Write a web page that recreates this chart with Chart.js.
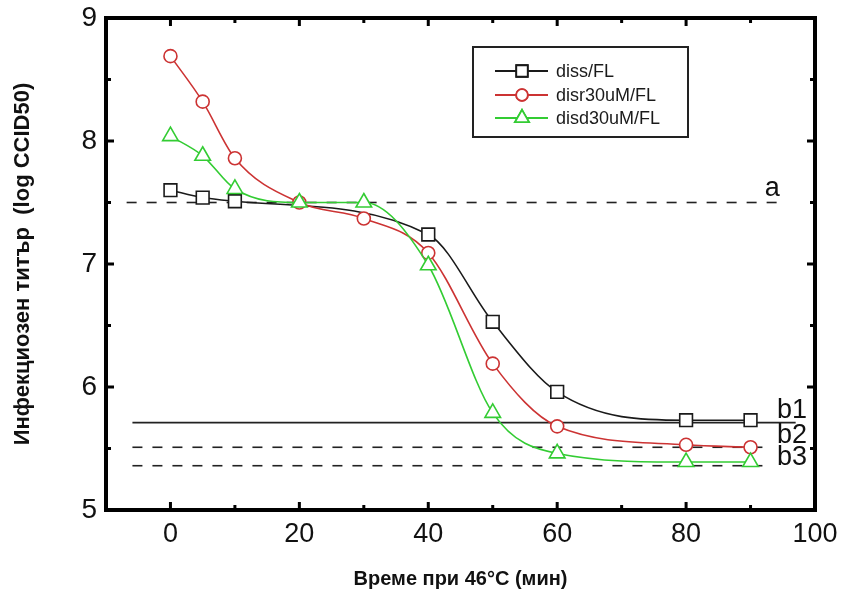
<!DOCTYPE html>
<html>
<head>
<meta charset="utf-8">
<script src="https://cdn.jsdelivr.net/npm/chart.js@4"></script>
<style>html,body{margin:0;padding:0;background:#fff}canvas{display:block}</style>
</head>
<body>
<canvas id="c" width="841" height="592"></canvas>
<script>
// Series: infectious titre (log CCID50) after heating at 46°C
const seriesNames = ['diss/FL', 'disr30uM/FL', 'disd30uM/FL'];
const dissTimes = [0, 5, 10, 40, 50, 60, 80, 90];
const dissTiter = [7.60, 7.54, 7.51, 7.24, 6.53, 5.96, 5.73, 5.73];
const disrTimes = [0, 5, 10, 20, 30, 40, 50, 60, 80, 90];
const disrTiter = [8.69, 8.32, 7.86, 7.50, 7.37, 7.09, 6.19, 5.68, 5.53, 5.51];
const disdTimes = [0, 5, 10, 20, 30, 40, 50, 60, 80, 90];
const disdTiter = [8.04, 7.88, 7.61, 7.50, 7.50, 6.99, 5.79, 5.46, 5.39, 5.39];

// Reference levels with their horizontal extent (minutes)
const refNames = ['a', 'b1', 'b2', 'b3'];
const refLevels = [7.50, 5.71, 5.51, 5.36];
const refStart = [-6.8, -5.9, -5.9, -5.9];
const refEnd = [95.3, 97.0, 92.2, 92.2];

// Axis ticks
const xTicks = [0, 20, 40, 60, 80, 100];
const yTicks = [5, 6, 7, 8, 9];
const xRange = [-10, 100];
const yRange = [5, 9];

const FONT = '"Liberation Sans", Arial, sans-serif';
const seriesStyle = [
  { color: '#1a1a1a', shape: 'rect', radius: 9 },
  { color: '#cc3333', shape: 'circle', radius: 6.5 },
  { color: '#33cc33', shape: 'triangle', radius: 9 }
];
const refStyle = [
  { dash: [10, 10] }, { dash: [] }, { dash: [10, 10] }, { dash: [10, 10] }
];
// label anchor (x in minutes, baseline offset in px above the line)
const refLabelPos = [
  { x: 92.2, dy: 7 }, { x: 94.1, dy: 5 }, { x: 94.1, dy: 4 }, { x: 94.1, dy: 1 }
];

const pairs = (xs, ys) => xs.map((x, i) => ({ x, y: ys[i] }));
const seriesData = [pairs(dissTimes, dissTiter), pairs(disrTimes, disrTiter), pairs(disdTimes, disdTiter)];

const datasets = seriesData.map((d, i) => ({
  label: seriesNames[i],
  data: d,
  borderColor: seriesStyle[i].color,
  borderWidth: 1.6,
  pointStyle: seriesStyle[i].shape,
  pointRadius: seriesStyle[i].radius,
  pointHoverRadius: seriesStyle[i].radius,
  pointBorderColor: seriesStyle[i].color,
  pointBackgroundColor: '#ffffff',
  pointBorderWidth: 1.6,
  cubicInterpolationMode: 'monotone',
  fill: false,
  order: 3 - i
}));

refLevels.forEach((lv, i) => {
  datasets.push({
    label: refNames[i],
    data: [{ x: refStart[i], y: lv }, { x: refEnd[i], y: lv }],
    borderColor: '#222',
    borderWidth: 1.6,
    borderDash: refStyle[i].dash,
    pointRadius: 0,
    fill: false,
    order: 10
  });
});

// Frame with inward ticks on all four sides, reference labels and inset legend
const decor = {
  id: 'decor',
  afterDatasetsDraw(chart) {
    const { ctx, scales: { x, y } } = chart;
    ctx.save();
    ctx.fillStyle = '#111';
    ctx.font = '27px ' + FONT;
    ctx.textAlign = 'left';
    ctx.textBaseline = 'alphabetic';
    refNames.forEach((n, i) => {
      ctx.fillText(n, x.getPixelForValue(refLabelPos[i].x), y.getPixelForValue(refLevels[i]) - refLabelPos[i].dy);
    });
    ctx.restore();
  },
  afterDraw(chart) {
    const { ctx, chartArea: a, scales: { x, y } } = chart;
    ctx.save();
    ctx.strokeStyle = '#000';
    ctx.lineWidth = 4;
    ctx.strokeRect(a.left, a.top, a.right - a.left, a.bottom - a.top);

    ctx.lineWidth = 3;
    const major = 8, minor = 5;
    const tickX = (v, len) => {
      const px = x.getPixelForValue(v);
      ctx.beginPath();
      ctx.moveTo(px, a.bottom); ctx.lineTo(px, a.bottom - len);
      ctx.moveTo(px, a.top); ctx.lineTo(px, a.top + len);
      ctx.stroke();
    };
    const tickY = (v, len) => {
      const py = y.getPixelForValue(v);
      ctx.beginPath();
      ctx.moveTo(a.left, py); ctx.lineTo(a.left + len, py);
      ctx.moveTo(a.right, py); ctx.lineTo(a.right - len, py);
      ctx.stroke();
    };
    xTicks.forEach((v, i) => {
      tickX(v, major);
      if (i < xTicks.length - 1) tickX((v + xTicks[i + 1]) / 2, minor);
    });
    yTicks.forEach((v, i) => {
      tickY(v, major);
      if (i < yTicks.length - 1) tickY((v + yTicks[i + 1]) / 2, minor);
    });

    // legend box
    const L = { left: 473, top: 47, right: 688, bottom: 137 };
    ctx.fillStyle = '#fff';
    ctx.fillRect(L.left, L.top, L.right - L.left, L.bottom - L.top);
    ctx.strokeStyle = '#222';
    ctx.lineWidth = 2;
    ctx.strokeRect(L.left, L.top, L.right - L.left, L.bottom - L.top);
    const rows = [71, 95, 118];
    ctx.font = '18px ' + FONT;
    ctx.textBaseline = 'middle';
    ctx.textAlign = 'left';
    seriesNames.forEach((n, i) => {
      const st = seriesStyle[i];
      const ry = rows[i];
      ctx.strokeStyle = st.color;
      ctx.lineWidth = 1.8;
      ctx.beginPath();
      ctx.moveTo(495, ry); ctx.lineTo(548, ry);
      ctx.stroke();
      ctx.fillStyle = '#fff';
      Chart.helpers.drawPoint(ctx, { pointStyle: st.shape, radius: st.radius * 0.9, borderWidth: 1.6, rotation: 0 }, 522, ry);
      ctx.fill();
      ctx.stroke();
      ctx.fillStyle = '#1a1a1a';
      ctx.fillText(n, 556, ry + 1);
    });
    ctx.restore();
  }
};

new Chart(document.getElementById('c'), {
  type: 'line',
  data: { datasets },
  options: {
    responsive: false,
    animation: false,
    layout: { padding: { top: 18, right: 26, left: 0, bottom: 0 } },
    plugins: { legend: { display: false }, tooltip: { enabled: false } },
    scales: {
      x: {
        type: 'linear',
        min: xRange[0], max: xRange[1],
        afterFit(s) { s.height = 82; s.paddingLeft = 0; s.paddingRight = 0; },
        afterBuildTicks(s) { s.ticks = xTicks.map(v => ({ value: v })); },
        grid: { display: false, drawTicks: false },
        border: { display: false },
        ticks: {
          autoSkip: false, maxRotation: 0, padding: 8,
          color: '#111', font: { family: FONT, size: 27 }
        },
        title: {
          display: true, text: 'Време при 46°C (мин)', color: '#111',
          font: { family: FONT, size: 20, weight: 'bold' }, padding: { top: 0, bottom: 1 }
        }
      },
      y: {
        type: 'linear',
        min: yRange[0], max: yRange[1],
        afterFit(s) { s.width = 106; s.paddingTop = 0; s.paddingBottom = 0; },
        afterBuildTicks(s) { s.ticks = yTicks.map(v => ({ value: v })); },
        grid: { display: false, drawTicks: false },
        border: { display: false },
        ticks: {
          padding: 9, color: '#111', font: { family: FONT, size: 28 }
        },
        title: {
          display: true, text: 'Инфекциозен титър  (log CCID50)', color: '#111',
          font: { family: FONT, size: 22, weight: 'bold' }, padding: { top: 10, bottom: 0 }
        }
      }
    }
  },
  plugins: [decor]
});
</script>
</body>
</html>
